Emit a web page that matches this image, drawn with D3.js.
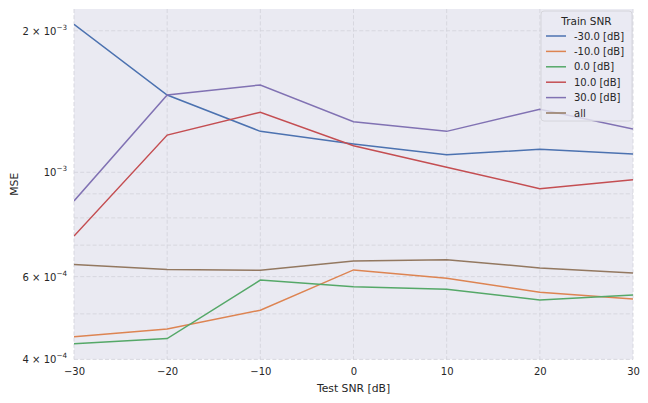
<!DOCTYPE html>
<html><head><meta charset="utf-8">
<script src="https://cdn.jsdelivr.net/npm/d3@7"></script>
<style>body{margin:0;background:#fff}svg{display:block;font-family:"DejaVu Sans",sans-serif}</style>
</head><body><svg id="c" width="648" height="403"></svg>
<script>
const testSNR = [-30, -20, -10, 0, 10, 20, 30];
const seriesNames = ["-30.0 [dB]", "-10.0 [dB]", "0.0 [dB]", "10.0 [dB]", "30.0 [dB]", "all"];
const mseTrainM30 = [2.065e-3, 1.46e-3, 1.222e-3, 1.149e-3, 1.090e-3, 1.119e-3, 1.094e-3];
const mseTrainM10 = [0.447e-3, 0.464e-3, 0.509e-3, 0.620e-3, 0.595e-3, 0.556e-3, 0.538e-3];
const mseTrain0   = [0.432e-3, 0.443e-3, 0.590e-3, 0.571e-3, 0.564e-3, 0.535e-3, 0.548e-3];
const mseTrain10  = [0.732e-3, 1.20e-3, 1.342e-3, 1.139e-3, 1.025e-3, 0.923e-3, 0.964e-3];
const mseTrain30  = [0.869e-3, 1.46e-3, 1.534e-3, 1.281e-3, 1.222e-3, 1.362e-3, 1.236e-3];
const mseAll      = [0.637e-3, 0.621e-3, 0.619e-3, 0.648e-3, 0.652e-3, 0.626e-3, 0.611e-3];
const seriesValues = [mseTrainM30, mseTrainM10, mseTrain0, mseTrain10, mseTrain30, mseAll];
const colors = ["#4C72B0", "#DD8452", "#55A868", "#C44E52", "#8172B3", "#937860"];
const xTicks = [-30, -20, -10, 0, 10, 20, 30];
const yMajor = [4e-4, 6e-4, 1e-3, 2e-3];
const yMajorMant = ["4", "6", null, "2"];
const yMajorExp = ["−4", "−4", "−3", "−3"];
const yMinor = [5e-4, 7e-4, 8e-4, 9e-4];

const svg = d3.select("#c");
const L = 74, R = 633, T = 9, B = 359.4;
const x = d3.scaleLinear().domain([-30, 30]).range([L, R]);
const y = d3.scaleLog().domain([4e-4, 2.225e-3]).range([B, T]);

svg.append("rect").attr("x", L).attr("y", T).attr("width", R - L).attr("height", B - T).attr("fill", "#EAEAF2");

const grid = svg.append("g").attr("stroke", "#d5d5dc").attr("stroke-width", 0.9).attr("stroke-dasharray", "4,2.2");
grid.selectAll(".gx").data(xTicks).join("line")
  .attr("x1", d => x(d)).attr("x2", d => x(d)).attr("y1", T).attr("y2", B);
grid.selectAll(".gy").data(yMajor.concat(yMinor)).join("line")
  .attr("x1", L).attr("x2", R).attr("y1", d => y(d)).attr("y2", d => y(d));

// x axis
const xa = svg.append("g").attr("transform", `translate(0,${B})`)
  .call(d3.axisBottom(x).tickValues(xTicks).tickSize(0).tickPadding(8.5).tickFormat(d => d3.format("")(d).replace("-", "−")));
xa.select(".domain").remove();
xa.selectAll("text").attr("font-size", 10).attr("fill", "#262626").attr("font-family", "DejaVu Sans");

// y axis with custom labels
const ya = svg.append("g");
yMajor.forEach((v, i) => {
  const t = ya.append("text").attr("x", L - 7).attr("y", y(v) + 4).attr("text-anchor", "end")
    .attr("font-size", 10).attr("fill", "#262626");
  if (yMajorMant[i]) t.append("tspan").text(yMajorMant[i] + " × 10");
  else t.append("tspan").text("10");
  t.append("tspan").attr("dy", -5).attr("font-size", 7.2).text(yMajorExp[i]);
});

svg.append("text").attr("x", (L + R) / 2).attr("y", 391.5).attr("text-anchor", "middle")
  .attr("font-size", 10.8).attr("fill", "#262626").text("Test SNR [dB]");
svg.append("text").attr("transform", `translate(18,${(T + B) / 2}) rotate(-90)`).attr("text-anchor", "middle")
  .attr("font-size", 10.8).attr("fill", "#262626").text("MSE");

const line = d3.line().x((d, i) => x(testSNR[i])).y(d => y(d));
svg.append("clipPath").attr("id", "clp").append("rect").attr("x", L).attr("y", T).attr("width", R - L).attr("height", B - T);
svg.append("g").attr("clip-path", "url(#clp)").selectAll("path").data(seriesValues).join("path")
  .attr("d", d => line(d)).attr("fill", "none").attr("stroke", (d, i) => colors[i]).attr("stroke-width", 1.5);

// legend
const lg = svg.append("g");
const lx = 541, ly = 11, lw = 91, lh = 110;
lg.append("rect").attr("x", lx).attr("y", ly).attr("width", lw).attr("height", lh).attr("rx", 3)
  .attr("fill", "#EAEAF2").attr("fill-opacity", 0.8).attr("stroke", "#d0d0d6").attr("stroke-width", 0.8);
lg.append("text").attr("x", lx + lw / 2).attr("y", ly + 13.5).attr("text-anchor", "middle").attr("font-size", 10.5).attr("fill", "#262626").text("Train SNR");
seriesNames.forEach((n, i) => {
  const yy = ly + 25 + i * 15.4;
  lg.append("line").attr("x1", lx + 5).attr("x2", lx + 25).attr("y1", yy).attr("y2", yy).attr("stroke", colors[i]).attr("stroke-width", 1.5);
  lg.append("text").attr("x", lx + 33).attr("y", yy + 3.6).attr("font-size", 10).attr("fill", "#262626").text(n);
});
</script></body></html>
